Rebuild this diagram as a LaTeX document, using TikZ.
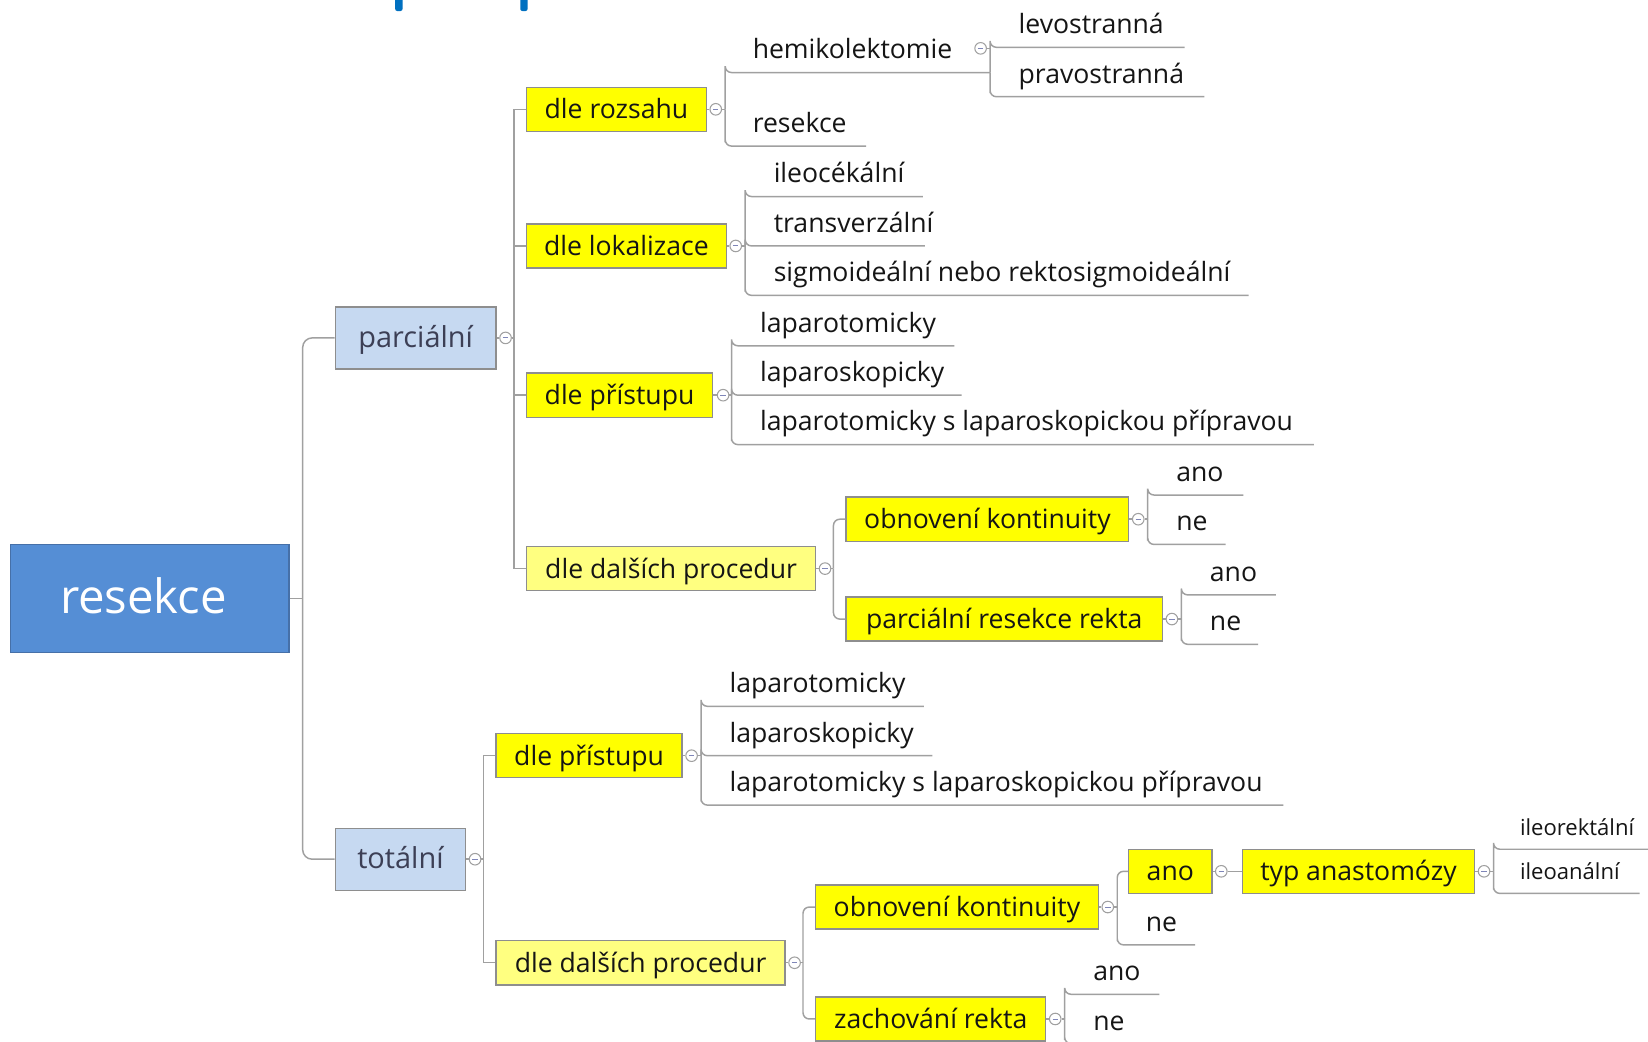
\documentclass[tikz,border=0pt]{standalone}
\usepackage{fontspec}
\setmainfont{Open Sans}
\definecolor{lineg}{HTML}{A0A0A0}
\definecolor{boxg}{HTML}{8E8E8E}
\definecolor{yel}{HTML}{FFFF00}
\definecolor{lyel}{HTML}{FFFF80}
\definecolor{rootblue}{HTML}{558ED5}
\definecolor{rootedge}{HTML}{4670A8}
\definecolor{lblue}{HTML}{C6D9F1}
\definecolor{txt}{HTML}{151515}
\definecolor{ptxt}{HTML}{3C3F55}
\definecolor{minusc}{HTML}{7F86B8}
\definecolor{barblue}{HTML}{0070C0}
\newcommand\fsz{\fontsize{25.3}{30}\selectfont}
\newcommand\fsm{\fontsize{21}{25}\selectfont}
\newcommand\fsp{\fontsize{27.5}{33}\selectfont}
\newcommand\fsr{\fontsize{45}{52}\selectfont}
\newcommand\ulchild[6]{%
  \coordinate (#1-s) at (#2,#3);
  \coordinate (#1-e) at (#4,#3);
  \node[lbl, anchor=base west] (#1) at (#5,#3-13) {#6};}
\begin{document}
\begin{tikzpicture}[x=1pt,y=-1pt,
  conn/.style={draw=lineg, line width=1.4pt},
  rc/.style={rounded corners=6pt},
  rcb/.style={rounded corners=9pt},
  lbl/.style={inner sep=0pt, font=\fsz, text=txt},
  ybox/.style={draw=boxg, line width=1.3pt, fill=yel, minimum height=42pt, inner sep=0pt,
    text height=23pt, text depth=5pt, font=\fsz, text=txt},
  lybox/.style={ybox, fill=lyel},
  lbox/.style={draw=boxg, line width=1.3pt, fill=lblue, minimum height=59pt, inner sep=0pt,
    text height=24pt, text depth=6pt, font=\fsp, text=ptxt},
  rootbox/.style={draw=rootedge, line width=1.3pt, fill=rootblue, inner sep=0pt,
    text height=37pt, text depth=9pt, font=\fsr, text=white},
  cmark/.style={circle, draw=lineg, fill=white, line width=1pt, minimum size=11pt, inner sep=0pt,
    path picture={\draw[draw=minusc, line width=0.9pt]
      ([xshift=-2.6pt]path picture bounding box.center) -- ([xshift=2.6pt]path picture bounding box.center);}}
]
\useasboundingbox (0,0) rectangle (1568,991);
\clip (0,0) rectangle (1568,991);
\fill[white] (0,0) rectangle (1568,991);

% top bars
\fill[barblue, rounded corners=2pt] (376,-6) rectangle (383,10.5);
\fill[barblue, rounded corners=2pt] (495,-6) rectangle (502,10.5);

% root and first level
\node[rootbox, minimum width=265pt, minimum height=103pt] (root) at (142.5,569.5) {\hspace*{-12pt}resekce};
\node[lbox, minimum width=153pt] (parc) at (395.5,321.5) {parciální};
\node[lbox, minimum width=124pt] (tot) at (381,817.5) {totální};
\coordinate (rb) at (288,569.5);
\draw[conn] (root.east) -- (rb);
\draw[conn,rcb] (rb) |- (parc.west);
\draw[conn,rcb] (rb) |- (tot.west);

% ---------------- parciální ----------------
\node[cmark] (cparc) at (481,321.5) {};
\coordinate (pb) at (489,321.5);
\draw[conn] (parc.east) -- (cparc.west);
\draw[conn] (cparc.east) -- (pb);
\node[ybox, minimum width=171pt] (rozs) at (586.5,104) {dle rozsahu};
\node[ybox, minimum width=190pt] (lok) at (596,234) {dle lokalizace};
\node[ybox, minimum width=177pt] (pris1) at (589.5,376) {dle přístupu};
\node[lybox, minimum width=275pt] (dals1) at (638.5,541) {dle dalších procedur};
\draw[conn] (pb) |- (rozs.west);
\draw[conn] (pb) |- (lok.west);
\draw[conn] (pb) |- (pris1.west);
\draw[conn] (pb) |- (dals1.west);

% dle rozsahu
\node[cmark] (crozs) at (681,104) {};
\coordinate (rozsb) at (690,104);
\draw[conn] (rozs.east) -- (crozs.west);
\draw[conn] (crozs.east) -- (rozsb);
\ulchild{hemi}{690}{69}{942}{716}{hemikolektomie}
\ulchild{res2}{690}{139}{824}{716}{resekce}
\draw[conn,rc] (rozsb) |- (hemi-s) -- (hemi-e);
\draw[conn,rc] (rozsb) |- (res2-s) -- (res2-e);
% hemikolektomie
\node[cmark] (chemi) at (933,46) {};
\ulchild{levo}{942}{45}{1127}{969}{levostranná}
\ulchild{pravo}{942}{92}{1146}{969}{pravostranná}
\draw[conn,rc] (hemi-e) |- (levo-s) -- (levo-e);
\draw[conn,rc] (hemi-e) |- (pravo-s) -- (pravo-e);
\draw[conn] (chemi.east) -- (chemi.east -| levo-s);

% dle lokalizace
\node[cmark] (clok) at (700,234) {};
\coordinate (lokb) at (709,234);
\draw[conn] (lok.east) -- (clok.west);
\draw[conn] (clok.east) -- (lokb);
\ulchild{ileo}{709}{187}{878}{736}{ileocékální}
\ulchild{trans}{709}{234}{880}{736}{transverzální}
\ulchild{sigm}{709}{281}{1188}{736}{sigmoideální nebo rektosigmoideální}
\draw[conn,rc] (lokb) |- (ileo-s) -- (ileo-e);
\draw[conn,rc] (lokb) |- (trans-s) -- (trans-e);
\draw[conn,rc] (lokb) |- (sigm-s) -- (sigm-e);

% dle přístupu (parciální)
\node[cmark] (cpris1) at (688,376) {};
\coordinate (pris1b) at (696,376);
\draw[conn] (pris1.east) -- (cpris1.west);
\draw[conn] (cpris1.east) -- (pris1b);
\ulchild{lta}{696}{329}{908}{723}{laparotomicky}
\ulchild{lsa}{696}{376}{915}{723}{laparoskopicky}
\ulchild{lpa}{696}{423}{1250}{723}{laparotomicky s laparoskopickou přípravou}
\draw[conn,rc] (pris1b) |- (lta-s) -- (lta-e);
\draw[conn,rc] (pris1b) |- (lsa-s) -- (lsa-e);
\draw[conn,rc] (pris1b) |- (lpa-s) -- (lpa-e);

% dle dalších procedur (parciální)
\node[cmark] (cdals1) at (785,541) {};
\coordinate (dals1b) at (793,541);
\draw[conn] (dals1.east) -- (cdals1.west);
\draw[conn] (cdals1.east) -- (dals1b);
\node[ybox, minimum width=269pt] (obn1) at (939.5,494) {obnovení kontinuity};
\node[ybox, minimum width=301pt] (prr) at (955.5,589) {parciální resekce rekta};
\draw[conn,rc] (dals1b) |- (obn1.west);
\draw[conn,rc] (dals1b) |- (prr.west);
% obnovení kontinuity
\node[cmark] (cobn1) at (1083,494) {};
\coordinate (obn1b) at (1092,494);
\draw[conn] (obn1.east) -- (cobn1.west);
\draw[conn] (cobn1.east) -- (obn1b);
\ulchild{anoa}{1092}{471}{1183}{1119}{ano}
\ulchild{nea}{1092}{518}{1166}{1119}{ne}
\draw[conn,rc] (obn1b) |- (anoa-s) -- (anoa-e);
\draw[conn,rc] (obn1b) |- (nea-s) -- (nea-e);
% parciální resekce rekta
\node[cmark] (cprr) at (1115,589) {};
\coordinate (prrb) at (1124,589);
\draw[conn] (prr.east) -- (cprr.west);
\draw[conn] (cprr.east) -- (prrb);
\ulchild{anob}{1124}{566}{1214}{1151}{ano}
\ulchild{neb}{1124}{613}{1197}{1151}{ne}
\draw[conn,rc] (prrb) |- (anob-s) -- (anob-e);
\draw[conn,rc] (prrb) |- (neb-s) -- (neb-e);

% ---------------- totální ----------------
\node[cmark] (ctot) at (452,817.5) {};
\coordinate (tb) at (460,817.5);
\draw[conn] (tot.east) -- (ctot.west);
\draw[conn] (ctot.east) -- (tb);
\node[ybox, minimum width=177pt] (pris2) at (560.5,719) {dle přístupu};
\node[lybox, minimum width=275pt] (dals2) at (609.5,916) {dle dalších procedur};
\draw[conn] (tb) |- (pris2.west);
\draw[conn] (tb) |- (dals2.west);

% dle přístupu (totální)
\node[cmark] (cpris2) at (658,719) {};
\coordinate (pris2b) at (667,719);
\draw[conn] (pris2.east) -- (cpris2.west);
\draw[conn] (cpris2.east) -- (pris2b);
\ulchild{ltb}{667}{672}{879}{694}{laparotomicky}
\ulchild{lsb}{667}{719}{887}{694}{laparoskopicky}
\ulchild{lpb}{667}{766}{1221}{694}{laparotomicky s laparoskopickou přípravou}
\draw[conn,rc] (pris2b) |- (ltb-s) -- (ltb-e);
\draw[conn,rc] (pris2b) |- (lsb-s) -- (lsb-e);
\draw[conn,rc] (pris2b) |- (lpb-s) -- (lpb-e);

% dle dalších procedur (totální)
\node[cmark] (cdals2) at (756,916) {};
\coordinate (dals2b) at (764,916);
\draw[conn] (dals2.east) -- (cdals2.west);
\draw[conn] (cdals2.east) -- (dals2b);
\node[ybox, minimum width=269pt] (obn2) at (910.5,863) {obnovení kontinuity};
\node[ybox, minimum width=219pt] (zach) at (885.5,969.5) {zachování rekta};
\draw[conn,rc] (dals2b) |- (obn2.west);
\draw[conn,rc] (dals2b) |- (zach.west);
% obnovení kontinuity (totální)
\node[cmark] (cobn2) at (1054,863) {};
\coordinate (obn2b) at (1063,863);
\draw[conn] (obn2.east) -- (cobn2.west);
\draw[conn] (cobn2.east) -- (obn2b);
\node[ybox, minimum width=79pt] (anoc) at (1113.5,829) {ano};
\ulchild{nec}{1063}{899}{1137}{1090}{ne}
\draw[conn,rc] (obn2b) |- (anoc.west);
\draw[conn,rc] (obn2b) |- (nec-s) -- (nec-e);
% ano -> typ anastomózy
\node[cmark] (canoc) at (1162,829) {};
\node[ybox, minimum width=221pt] (typ) at (1292.5,829) {typ anastomózy};
\draw[conn] (anoc.east) -- (canoc.west);
\draw[conn] (canoc.east) -- (typ.west);
\node[cmark] (ctyp) at (1412,829) {};
\coordinate (typb) at (1421,829);
\draw[conn] (typ.east) -- (ctyp.west);
\draw[conn] (ctyp.east) -- (typb);
\ulchild{ilr}{1421}{808}{1575}{1446}{\fsm ileorektální}
\ulchild{ila}{1421}{850}{1560}{1446}{\fsm ileoanální}
\draw[conn,rc] (typb) |- (ilr-s) -- (ilr-e);
\draw[conn,rc] (typb) |- (ila-s) -- (ila-e);
% zachování rekta
\node[cmark] (czach) at (1004,969.5) {};
\coordinate (zachb) at (1013,969.5);
\draw[conn] (zach.east) -- (czach.west);
\draw[conn] (czach.east) -- (zachb);
\ulchild{anod}{1013}{946}{1103}{1040}{ano}
\ulchild{ned}{1013}{993}{1100}{1040}{ne}
\draw[conn,rc] (zachb) |- (anod-s) -- (anod-e);
\draw[conn,rc] (zachb) |- (ned-s) -- (ned-e);
\end{tikzpicture}
\end{document}
